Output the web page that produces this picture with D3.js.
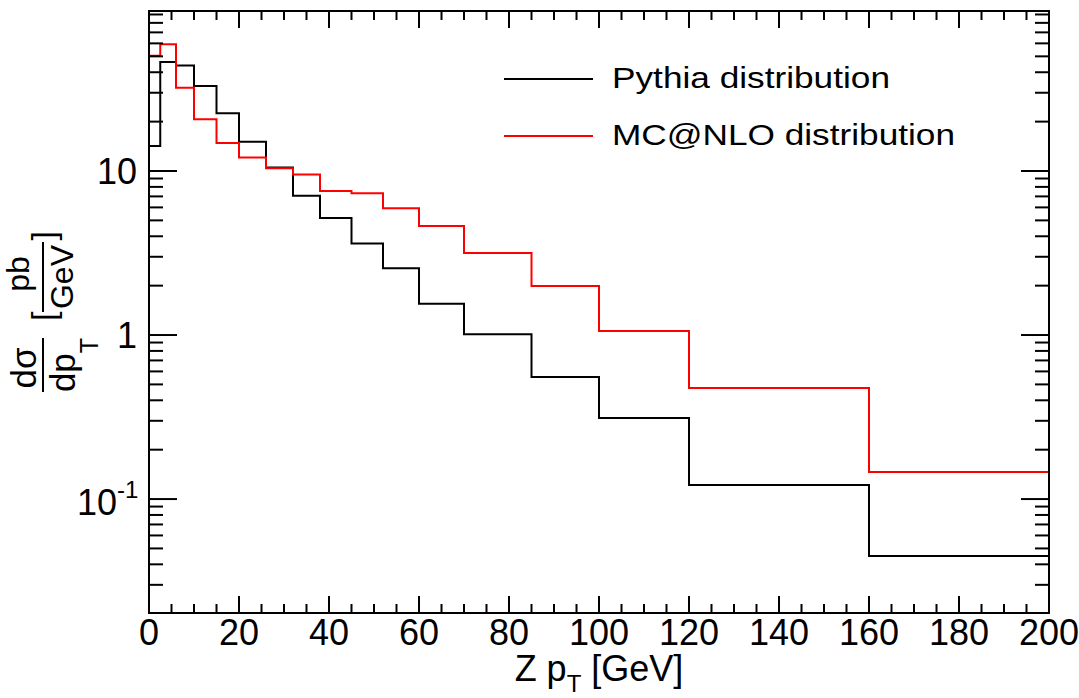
<!DOCTYPE html>
<html>
<head>
<meta charset="utf-8">
<script src="https://cdn.jsdelivr.net/npm/d3@7/dist/d3.min.js"></script>
<style>
body{margin:0;background:#fff;}
text{font-family:"Liberation Sans",Arial,Helvetica,sans-serif;fill:#000;}
</style>
</head>
<body>
<div id="chart"></div>
<script>
// bin edges in Z pT [GeV]
var edges=[0,2.5,6,10,15,20,26,32,38,45,52,60,70,85,100,120,160,200];
// dsigma/dpT per bin [pb/GeV]
var pythia=[14.2,46.2,43.9,33.0,22.5,15.1,10.5,7.07,5.17,3.62,2.55,1.55,1.01,0.555,0.312,0.1218,0.0449];
var mcnlo=[50.5,59.2,32.2,20.7,14.8,12.1,10.4,9.52,7.55,7.31,5.92,4.62,3.16,1.99,1.06,0.475,0.146];
var xTicks=[0,20,40,60,80,100,120,140,160,180,200];
var legendNames=["Pythia distribution","MC@NLO distribution"];
var colors=["#000000","#ff0000"];

var width=1079,height=698;
var marge={top:11,bottom:85,left:149,right:30};

var svg=d3.select("#chart").append("svg")
    .attr("width",width)
    .attr("height",height);

svg.append("rect").attr("width",width).attr("height",height).attr("fill","white");

var x=d3.scaleLinear().domain([0,200]).range([marge.left,width-marge.right]);
var y=d3.scaleLog().domain([0.0202,94.5]).range([height-marge.bottom,marge.top]);

var x0=x.range()[0],x1=x.range()[1],y0=y.range()[0],y1=y.range()[1];

// histograms
function drawHist(vals,color){
    var pts=[];
    for(var i=0;i<vals.length;i++) pts.push([edges[i],vals[i]]);
    pts.push([edges[edges.length-1],vals[vals.length-1]]);
    var line=d3.line()
        .x(function(d){return x(d[0]);})
        .y(function(d){return y(d[1]);})
        .curve(d3.curveStepAfter);
    svg.append("path")
        .attr("d",line(pts))
        .attr("fill","none")
        .attr("stroke",color)
        .attr("stroke-width",2);
}
drawHist(pythia,colors[0]);
drawHist(mcnlo,colors[1]);

// frame
svg.append("rect")
    .attr("x",x0).attr("y",y1)
    .attr("width",x1-x0).attr("height",y0-y1)
    .attr("fill","none").attr("stroke","black").attr("stroke-width",2);

// x ticks (bottom and top, inside)
var axg=svg.append("g").attr("stroke","black").attr("stroke-width",2);
for(var v=0;v<=200;v+=5){
    var len=(v%20==0)?17:9;
    axg.append("line").attr("x1",x(v)).attr("x2",x(v)).attr("y1",y0).attr("y2",y0-len);
    axg.append("line").attr("x1",x(v)).attr("x2",x(v)).attr("y1",y1).attr("y2",y1+len);
}
// y ticks (left and right, inside)
var dom=y.domain();
for(var e=-2;e<=1;e++){
    for(var m=1;m<=9;m++){
        var val=m*Math.pow(10,e);
        if(val<dom[0]||val>dom[1]) continue;
        var len=(m==1)?28:14;
        axg.append("line").attr("x1",x0).attr("x2",x0+len).attr("y1",y(val)).attr("y2",y(val));
        axg.append("line").attr("x1",x1).attr("x2",x1-len).attr("y1",y(val)).attr("y2",y(val));
    }
}

// x tick labels
svg.selectAll(".xlab").data(xTicks).enter().append("text")
    .attr("x",function(d){return x(d);})
    .attr("y",645)
    .attr("text-anchor","middle")
    .attr("font-size",36)
    .text(function(d){return d;});

// y tick labels
svg.append("text").attr("x",137).attr("y",y(10)+13).attr("text-anchor","end").attr("font-size",36).text("10");
svg.append("text").attr("x",137).attr("y",y(1)+13).attr("text-anchor","end").attr("font-size",36).text("1");
svg.append("text").attr("x",117).attr("y",y(0.1)+16).attr("text-anchor","end").attr("font-size",36).text("10");
svg.append("text").attr("x",117).attr("y",y(0.1)-1).attr("font-size",24).text("-1");

// x title
var xt=svg.append("text").attr("x",(x0+x1)/2).attr("y",681).attr("text-anchor","middle").attr("font-size",36);
xt.append("tspan").text("Z p");
xt.append("tspan").attr("font-size",24).attr("dy",11).text("T");
xt.append("tspan").attr("dy",-11).text(" [GeV]");

// y title
var yt=svg.append("g").attr("transform","translate(43,"+((y0+y1)/2)+") rotate(-90)");
yt.append("text").attr("x",-56).attr("y",-7).attr("text-anchor","middle").attr("font-size",35).text("dσ");
yt.append("line").attr("x1",-80).attr("x2",-26).attr("y1",0).attr("y2",0).attr("stroke","black").attr("stroke-width",2);
var den=yt.append("text").attr("x",-53).attr("y",32).attr("text-anchor","middle").attr("font-size",35);
den.append("tspan").text("dp");
den.append("tspan").attr("font-size",25).attr("dy",23).text("T");
yt.append("text").attr("x",-9).attr("y",12).attr("font-size",34).text("[");
yt.append("text").attr("x",38).attr("y",-14).attr("text-anchor","middle").attr("font-size",32).text("pb");
yt.append("line").attr("x1",0).attr("x2",70).attr("y1",0).attr("y2",0).attr("stroke","black").attr("stroke-width",2);
yt.append("text").attr("x",35).attr("y",30).attr("text-anchor","middle").attr("font-size",32).text("GeV");
yt.append("text").attr("x",81).attr("y",12).attr("text-anchor","end").attr("font-size",34).text("]");

// legend
var legendWidths=[278,343];
var leg=svg.append("g");
legendNames.forEach(function(name,i){
    var ly=79+i*57;
    leg.append("line").attr("x1",504).attr("x2",593).attr("y1",ly).attr("y2",ly)
        .attr("stroke",colors[i]).attr("stroke-width",2);
    leg.append("text").attr("x",612).attr("y",ly+9).attr("font-size",30)
        .attr("textLength",legendWidths[i]).attr("lengthAdjust","spacingAndGlyphs")
        .text(name);
});
</script>
</body>
</html>
